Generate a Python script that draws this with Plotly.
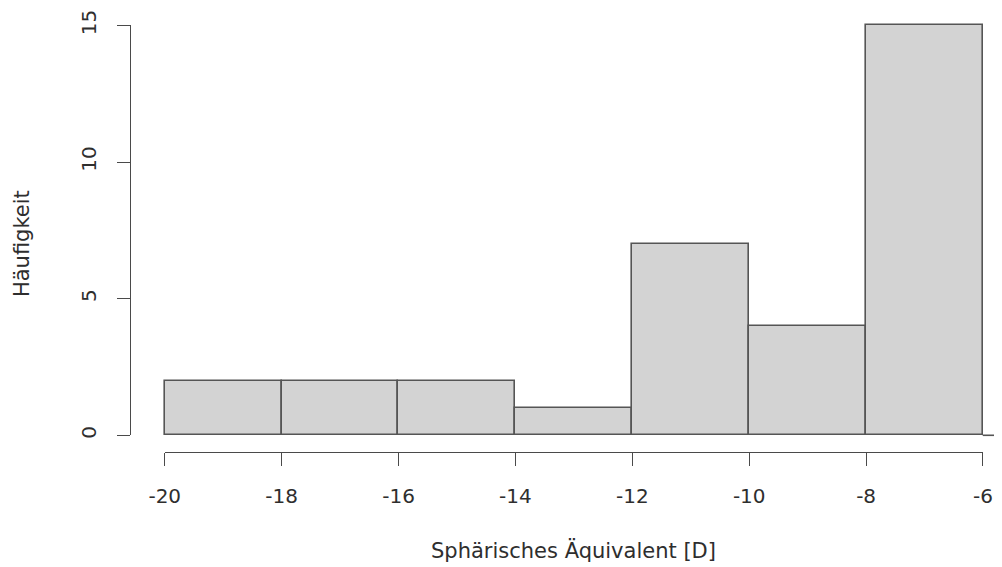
import plotly.graph_objects as go

# ---- data (R-style histogram) ----
bin_edges = [-20, -18, -16, -14, -12, -10, -8, -6]
counts = [2, 2, 2, 1, 7, 4, 15]
x_ticks = [-20, -18, -16, -14, -12, -10, -8, -6]
y_ticks = [0, 5, 10, 15]
x_title = "Sphärisches Äquivalent [D]"
y_title = "Häufigkeit"

centers = [(a + b) / 2 for a, b in zip(bin_edges[:-1], bin_edges[1:])]
widths = [b - a for a, b in zip(bin_edges[:-1], bin_edges[1:])]

# ---- layout geometry (pixels, relative to figure; page adds an 8px body offset) ----
OFF = 8
W, H = 1002 - OFF, 567 - OFF
X0PX, X1PX = 165 - OFF, 983 - OFF      # pixel of x=-20 and x=-6
Y0PX, Y1PX = 435 - OFF, 25 - OFF       # pixel of y=0 and y=15
ppx = (X1PX - X0PX) / (x_ticks[-1] - x_ticks[0])
ppy = (Y0PX - Y1PX) / (y_ticks[-1] - y_ticks[0])

xr = [-20.8, -5.67]
yr = [-1.6, 15.2]
left = X0PX - (x_ticks[0] - xr[0]) * ppx
right_px = min(W, X1PX + (xr[1] - x_ticks[-1]) * ppx)
top = Y1PX - (yr[1] - y_ticks[-1]) * ppy
bottom_px = Y0PX + (y_ticks[0] - yr[0]) * ppy
Wp = right_px - left
Hp = bottom_px - top

XAXIS_Y = 452 - OFF
YAXIS_X = 130 - OFF

font_family = "DejaVu Sans"
txt_color = "#2e2e2e"
ax_color = "#4a4a4a"

fig = go.Figure()
fig.add_trace(go.Bar(
    x=centers, y=counts, width=widths, base=0,
    marker=dict(color="#D3D3D3", line=dict(color="#555555", width=1.6)),
    hoverinfo="skip", showlegend=False,
))
# invisible trace to host the R-style detached axes
fig.add_trace(go.Scatter(
    x=[x_ticks[0]], y=[y_ticks[0]], xaxis="x2", yaxis="y2",
    mode="markers", marker=dict(opacity=0), hoverinfo="skip", showlegend=False,
))

fig.update_layout(
    template="none",
    width=W, height=H, autosize=False,
    margin=dict(l=left, r=max(0, W - right_px), t=top, b=H - bottom_px, pad=0,
                autoexpand=False),
    paper_bgcolor="white", plot_bgcolor="rgba(0,0,0,0)",
    font=dict(family=font_family, color=txt_color, size=20),
    bargap=0,
    xaxis=dict(range=xr, visible=False, domain=[0, 1], automargin=False),
    yaxis=dict(range=yr, visible=False, domain=[0, 1], automargin=False),
    xaxis2=dict(
        range=[x_ticks[0], x_ticks[-1]],
        domain=[(X0PX - left) / Wp, (X1PX - left) / Wp],
        anchor="free", position=(bottom_px - XAXIS_Y) / Hp, automargin=False,
        tickmode="array", tickvals=x_ticks, ticktext=[str(v) for v in x_ticks],
        ticks="outside", ticklen=13, tickwidth=1.3, tickcolor=ax_color,
        showline=True, linecolor=ax_color, linewidth=1.3,
        showgrid=False, zeroline=False, ticklabelstandoff=13,
        tickfont=dict(size=20, family=font_family, color=txt_color),
    ),
    yaxis2=dict(
        range=[y_ticks[0], y_ticks[-1]],
        domain=[(bottom_px - Y0PX) / Hp, (bottom_px - Y1PX) / Hp],
        anchor="free", position=(YAXIS_X - left) / Wp, automargin=False,
        tickmode="array", tickvals=y_ticks, ticktext=[str(v) for v in y_ticks],
        ticks="outside", ticklen=13, tickwidth=1.3, tickcolor=ax_color,
        showline=True, linecolor=ax_color, linewidth=1.3,
        showgrid=False, zeroline=False, tickangle=-90, ticklabelstandoff=13,
        tickfont=dict(size=20, family=font_family, color=txt_color),
    ),
)

# baseline stub to the right of the last bar (as in reference)
fig.add_shape(type="line", xref="x", yref="y",
              x0=bin_edges[-1], x1=xr[1], y0=0, y1=0,
              line=dict(color="#555555", width=1.6))

# axis titles
x_mid_px = X0PX + (((x_ticks[0] + x_ticks[-1]) / 2) - x_ticks[0]) * ppx
fig.add_annotation(text=x_title, xref="paper", yref="paper",
                   x=(x_mid_px - left) / Wp, y=(bottom_px - (550 - OFF)) / Hp,
                   showarrow=False, xanchor="center", yanchor="middle",
                   font=dict(size=21, family=font_family, color=txt_color))
fig.add_annotation(text=y_title, xref="paper", yref="paper",
                   x=(23 - OFF - left) / Wp, y=(bottom_px - (243 - OFF)) / Hp,
                   showarrow=False, xanchor="center", yanchor="middle",
                   textangle=-90,
                   font=dict(size=21, family=font_family, color=txt_color))

fig.write_html("out.html")
